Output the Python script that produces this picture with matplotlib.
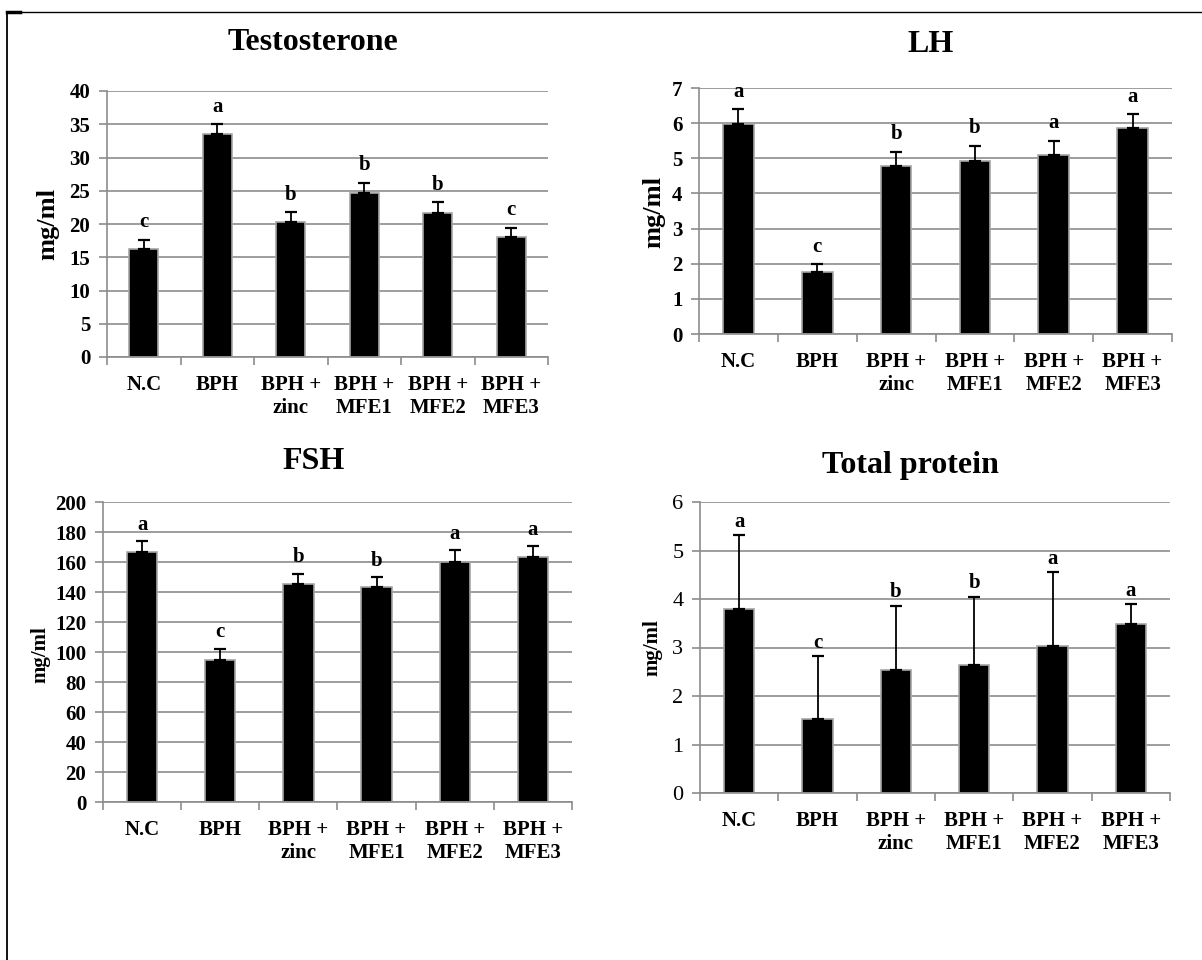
import numpy as np
import matplotlib
matplotlib.use('Agg')
import matplotlib.pyplot as plt
from matplotlib.lines import Line2D

plt.rcParams['font.family'] = ['Liberation Serif', 'DejaVu Serif']

groups = ['N.C', 'BPH', 'BPH +\nzinc', 'BPH +\nMFE1', 'BPH +\nMFE2', 'BPH +\nMFE3']

testo_mean = [16.2, 33.5, 20.25, 24.7, 21.7, 18.05]
testo_err = [1.4, 1.5, 1.5, 1.5, 1.55, 1.35]
testo_letters = ['c', 'a', 'b', 'b', 'b', 'c']

lh_mean = [5.97, 1.77, 4.79, 4.93, 5.09, 5.85]
lh_err = [0.42, 0.22, 0.4, 0.42, 0.41, 0.41]
lh_letters = ['a', 'c', 'b', 'b', 'a', 'a']

fsh_mean = [166.5, 95.0, 145.5, 143.2, 160.2, 163.6]
fsh_err = [7.6, 7.3, 6.8, 6.9, 7.7, 7.2]
fsh_letters = ['a', 'c', 'b', 'b', 'a', 'a']

tp_mean = [3.79, 1.52, 2.54, 2.63, 3.04, 3.48]
tp_err = [1.52, 1.30, 1.32, 1.42, 1.51, 0.41]
tp_letters = ['a', 'c', 'b', 'b', 'a', 'a']

W, H = 1202, 960
fig = plt.figure(figsize=(W / 100, H / 100), dpi=100)

GRID = '#8c8c8c'


def px_axes(left, right, top, bottom):
    return fig.add_axes([left / W, 1 - bottom / H, (right - left) / W, (bottom - top) / H])


def panel(ax, means, errs, letters, ymax, step, bold_ticks=True, text_off=8):
    x = np.arange(len(means))
    ax.set_axisbelow(True)
    ax.bar(x, means, width=0.39, color='black', edgecolor='#a6a6a6', linewidth=1.2, zorder=2)
    ax.errorbar(x, means, yerr=[np.zeros(len(errs)), errs], fmt='none', ecolor='black',
                elinewidth=1.3, capsize=4.2, capthick=1.6, zorder=3)
    for xi, m, e, l in zip(x, means, errs, letters):
        ax.annotate(l, xy=(xi, m + e), xytext=(0, text_off), textcoords='offset points',
                    ha='center', va='baseline', fontsize=15, fontweight='bold')
    ax.set_xlim(-0.5, len(means) - 0.5)
    ax.set_ylim(0, ymax)
    ax.set_yticks(np.arange(0, ymax + step / 2, step))
    ax.yaxis.grid(True, color=GRID, linewidth=1.2)
    for s in ['top', 'right']:
        ax.spines[s].set_visible(False)
    for s in ['left', 'bottom']:
        ax.spines[s].set_color(GRID)
        ax.spines[s].set_linewidth(1.2)
    ax.set_xticks(x)
    ax.set_xticklabels(groups, fontsize=15, fontweight='bold', linespacing=1.2)
    ax.set_xticks(np.arange(-0.5, len(means)), minor=True)
    ax.tick_params(axis='x', which='major', length=0, pad=13)
    ax.tick_params(axis='x', which='minor', length=6, width=1.2, color=GRID, direction='out')
    ax.tick_params(axis='y', length=6, width=1.2, color=GRID, pad=6,
                   labelsize=15 if bold_ticks else 16)
    for t in ax.get_yticklabels():
        t.set_fontweight('bold' if bold_ticks else 'normal')


ax1 = px_axes(107, 548, 91, 357)
panel(ax1, testo_mean, testo_err, testo_letters, 40, 5, text_off=9)
ax2 = px_axes(699, 1172, 88, 334)
panel(ax2, lh_mean, lh_err, lh_letters, 7, 1, text_off=9)
ax3 = px_axes(103, 572, 502, 802)
panel(ax3, fsh_mean, fsh_err, fsh_letters, 200, 20, text_off=8)
ax4 = px_axes(700, 1170, 502, 793)
panel(ax4, tp_mean, tp_err, tp_letters, 6, 1, bold_ticks=False, text_off=6)

titles = [('Testosterone', 313, 42), ('LH', 931, 45), ('FSH', 314, 462), ('Total protein', 910, 466)]
for t, x, y in titles:
    fig.text(x / W, 1 - y / H, t, ha='center', va='center', fontsize=23, fontweight='bold')

ylabels = [(48, 224, 19), (654, 212, 19), (40, 655, 15), (652, 648, 15)]
for x, y, fs in ylabels:
    fig.text(x / W, 1 - y / H, 'mg/ml', ha='center', va='center', rotation=90,
             fontsize=fs, fontweight='bold')

# frame lines around the figure
fig.add_artist(Line2D([7 / W, 7 / W], [0, 1 - 12 / H], color='black', linewidth=1.3))
fig.add_artist(Line2D([7 / W, 1], [1 - 12 / H, 1 - 12 / H], color='black', linewidth=1.0))
fig.add_artist(Line2D([7 / W, 20 / W], [1 - 12 / H, 1 - 12 / H], color='black', linewidth=2.5))

plt.savefig('out.png', dpi=100)
plt.close()
